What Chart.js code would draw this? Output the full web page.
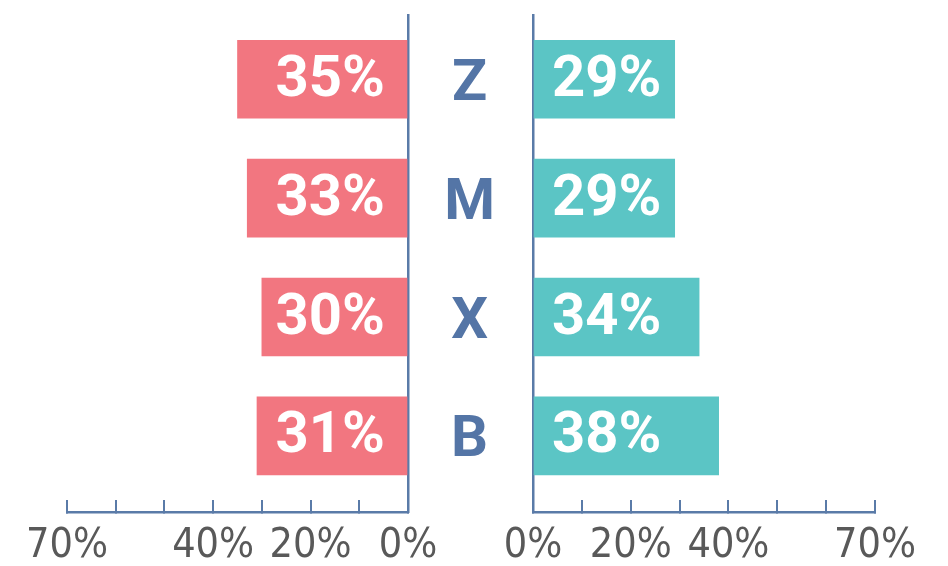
<!DOCTYPE html>
<html>
<head>
<meta charset="utf-8">
<script src="https://cdn.jsdelivr.net/npm/chart.js@4"></script>
<style>
  html, body { margin: 0; padding: 0; background: #ffffff; }
  #wrap { position: relative; width: 948px; height: 566px; }
  #wrap canvas { position: absolute; left: 0; top: 0; }
</style>
</head>
<body>
<div id="wrap">
  <canvas id="left" width="948" height="566"></canvas>
  <canvas id="right" width="948" height="566"></canvas>
</div>
<script>
// ---- data ----
const categories = ['Z', 'M', 'X', 'B'];
const leftValues = [35, 33, 30, 31];
const rightValues = [29, 29, 34, 38];
const tickValues = [0, 10, 20, 30, 40, 50, 60, 70];
const shownTickLabels = [0, 20, 40, 70];

// ---- styles ----
const PINK = '#F27680';
const TEAL = '#5BC5C5';
const AXIS_BLUE = '#5A7BA8';
const LABEL_BLUE = '#5475A6';
const TICK_GRAY = '#595959';
const NARROW = "'Liberation Sans Narrow', 'DejaVu Sans Condensed', sans-serif";
const BOLD = "Roboto, 'Liberation Sans', sans-serif";

Chart.defaults.animation = false;
Chart.defaults.responsive = false;
Chart.defaults.devicePixelRatio = 1;

const yMin = -0.54, yMax = 3.64;

function barData(values) {
  return values.map((v, i) => ({ x: v, y: i }));
}

const valueLabelPlugin = {
  id: 'valueLabels',
  afterDatasetsDraw(chart, args, opts) {
    const ctx = chart.ctx;
    ctx.save();
    ctx.font = 'bold 58px ' + BOLD;
    ctx.fillStyle = '#ffffff';
    ctx.textBaseline = 'middle';
    chart.data.datasets.forEach((ds, di) => {
      chart.getDatasetMeta(di).data.forEach((el, i) => {
        const txt = ds.data[i].x + '%';
        if (opts.side === 'left') {
          ctx.textAlign = 'right';
          ctx.fillText(txt, el.base - 22, el.y + 2);
        } else {
          ctx.textAlign = 'left';
          ctx.fillText(txt, el.base + 18, el.y + 2);
        }
      });
    });
    ctx.restore();
  }
};

function xScale(reverse) {
  return {
    type: 'linear',
    position: 'bottom',
    min: 0, max: 70,
    reverse: reverse,
    afterBuildTicks: a => { a.ticks = tickValues.map(v => ({ value: v })); },
    afterFit: s => { s.height = 54; s.paddingTop = 0; s.paddingBottom = 0; },
    border: { display: true, color: AXIS_BLUE, width: 2.5 },
    grid: { display: true, drawOnChartArea: false, drawTicks: true, tickLength: -12, color: AXIS_BLUE, lineWidth: 2 },
    ticks: {
      autoSkip: false,
      maxRotation: 0,
      padding: 22,
      color: TICK_GRAY,
      font: { family: NARROW, size: 41 },
      callback: v => shownTickLabels.includes(v) ? v + '%' : ''
    }
  };
}

new Chart(document.getElementById('left'), {
  type: 'bar',
  data: {
    datasets: [{
      data: barData(leftValues),
      backgroundColor: PINK,
      barThickness: 78,
      borderWidth: 0
    }]
  },
  options: {
    indexAxis: 'y',
    layout: { autoPadding: false, padding: { left: 67, right: 540, top: 15, bottom: 0 } },
    plugins: { legend: { display: false }, tooltip: { enabled: false }, valueLabels: { side: 'left' } },
    scales: {
      x: xScale(true),
      y: {
        type: 'linear',
        position: 'right',
        offset: false,
        min: yMin, max: yMax,
        reverse: true,
        afterFit: s => { s.width = 0; s.paddingTop = 0; s.paddingBottom = 0; },
        grid: { display: false },
        ticks: { display: false },
        border: { display: true, color: AXIS_BLUE, width: 2.5 }
      }
    }
  },
  plugins: [valueLabelPlugin]
});

new Chart(document.getElementById('right'), {
  type: 'bar',
  data: {
    datasets: [{
      data: barData(rightValues),
      backgroundColor: TEAL,
      barThickness: 78,
      borderWidth: 0
    }]
  },
  options: {
    indexAxis: 'y',
    layout: { autoPadding: false, padding: { left: 408, right: 73, top: 15, bottom: 0 } },
    plugins: { legend: { display: false }, tooltip: { enabled: false }, valueLabels: { side: 'right' } },
    scales: {
      x: xScale(false),
      y: {
        type: 'linear',
        position: 'left',
        offset: false,
        min: yMin, max: yMax,
        reverse: true,
        afterBuildTicks: a => { a.ticks = categories.map((c, i) => ({ value: i })); },
        afterFit: s => { s.width = 125; s.paddingTop = 0; s.paddingBottom = 0; },
        grid: { display: false, drawTicks: false },
        border: { display: true, color: AXIS_BLUE, width: 2.5 },
        ticks: {
          crossAlign: 'center',
          padding: 38,
          labelOffset: 6,
          color: LABEL_BLUE,
          font: { family: BOLD, size: 58, weight: 'bold' },
          callback: v => categories[v]
        }
      }
    }
  },
  plugins: [valueLabelPlugin]
});
</script>
</body>
</html>
